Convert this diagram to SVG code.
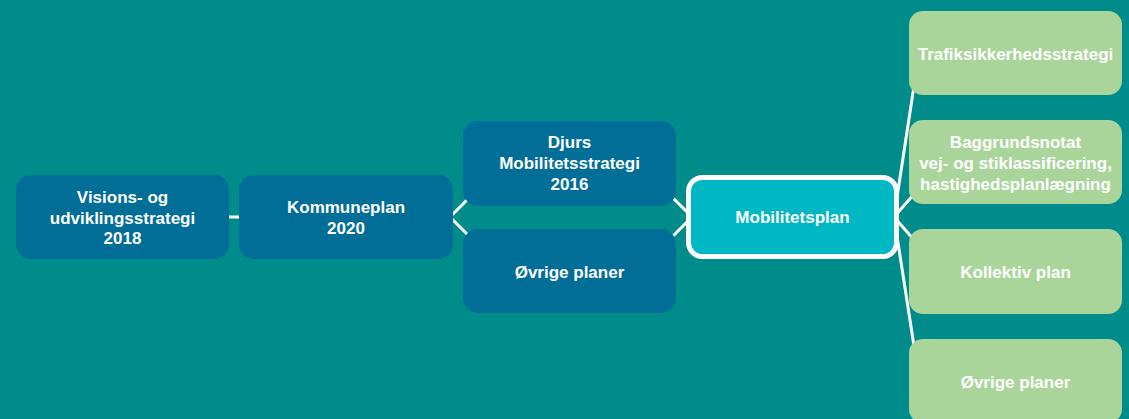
<svg xmlns="http://www.w3.org/2000/svg" width="1129" height="419" viewBox="0 0 1129 419">
<style>
.bg{fill:#008C8B}
.blue{fill:#006E96}
.green{fill:#A9D59B}
.main{fill:#00B7C4;stroke:#FFFFFF;stroke-width:5}
.t{font-family:"Liberation Sans",Arial,sans-serif;font-weight:bold;font-size:17px;fill:#FFFFFF;text-anchor:middle}
.c{stroke:#FFFFFF;stroke-width:3;fill:none}
</style>
<rect class="bg" x="0" y="0" width="1129" height="419"/>
<g id="connectors">
<line class="c" x1="226" y1="217" x2="242" y2="217"/>
<line class="c" x1="450" y1="217" x2="472" y2="195"/>
<line class="c" x1="450" y1="217" x2="472" y2="239"/>
<line class="c" x1="668" y1="193" x2="692" y2="217"/>
<line class="c" x1="668" y1="241" x2="692" y2="217"/>
<line class="c" x1="894" y1="217" x2="914" y2="86"/>
<line class="c" x1="894" y1="217" x2="915" y2="193"/>
<line class="c" x1="894" y1="217" x2="915" y2="241"/>
<line class="c" x1="894" y1="217" x2="914" y2="346"/>
</g>
<g id="n-visions">
<rect class="blue" x="16" y="175" width="213" height="84" rx="15"/>
<text class="t" x="122.5" y="203">Visions- og</text>
<text class="t" x="122.5" y="224">udviklingsstrategi</text>
<text class="t" x="122.5" y="244">2018</text>
</g>
<g id="n-kommuneplan">
<rect class="blue" x="239" y="175" width="214" height="84" rx="15"/>
<text class="t" x="346" y="213">Kommuneplan</text>
<text class="t" x="346" y="234">2020</text>
</g>
<g id="n-djurs">
<rect class="blue" x="463" y="121" width="213" height="85" rx="15"/>
<text class="t" x="569.5" y="148">Djurs</text>
<text class="t" x="569.5" y="169">Mobilitetsstrategi</text>
<text class="t" x="569.5" y="190">2016</text>
</g>
<g id="n-ovrige-left">
<rect class="blue" x="463" y="229" width="213" height="84" rx="15"/>
<text class="t" x="569.5" y="278">Øvrige planer</text>
</g>
<g id="n-mobilitetsplan">
<rect class="main" x="688.5" y="177.5" width="208" height="79" rx="14"/>
<text class="t" x="792.5" y="223">Mobilitetsplan</text>
</g>
<g id="n-trafik">
<rect class="green" x="909" y="11" width="213" height="84" rx="14"/>
<text class="t" x="1015.5" y="60">Trafiksikkerhedsstrategi</text>
</g>
<g id="n-baggrund">
<rect class="green" x="909" y="120" width="213" height="84" rx="14"/>
<text class="t" x="1015.5" y="148">Baggrundsnotat</text>
<text class="t" x="1015.5" y="169">vej- og stiklassificering,</text>
<text class="t" x="1015.5" y="190">hastighedsplanlægning</text>
</g>
<g id="n-kollektiv">
<rect class="green" x="909" y="229" width="213" height="85" rx="14"/>
<text class="t" x="1015.5" y="278">Kollektiv plan</text>
</g>
<g id="n-ovrige-right">
<rect class="green" x="909" y="339" width="213" height="84" rx="14"/>
<text class="t" x="1015.5" y="388">Øvrige planer</text>
</g>
</svg>
